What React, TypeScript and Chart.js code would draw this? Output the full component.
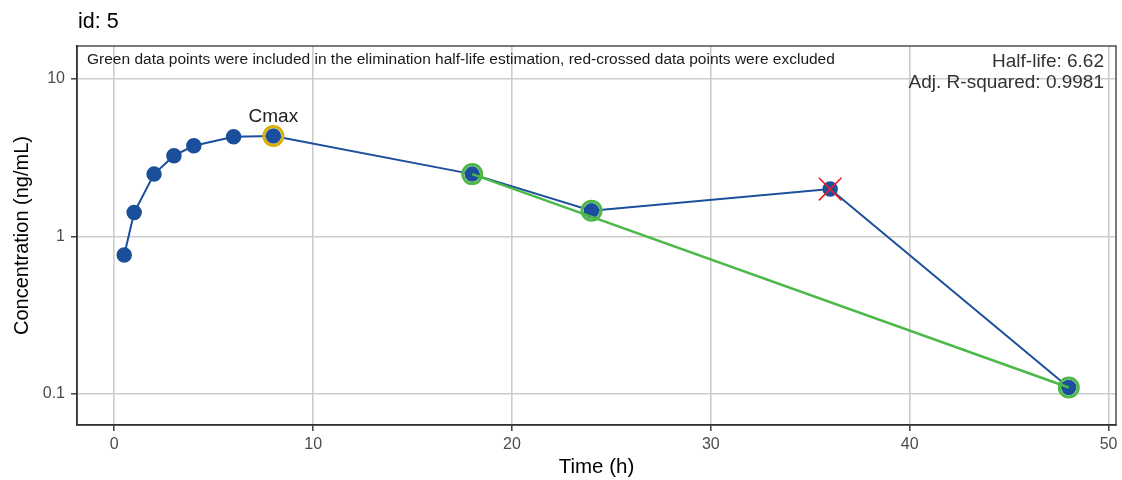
import React, { useEffect, useRef } from "react";
import { Chart, registerables } from "chart.js";

Chart.register(...registerables);

const times = [0.5, 1, 2, 3, 4, 6, 8, 18, 24, 36, 48];
const conc = [0.763, 1.42, 2.49, 3.26, 3.77, 4.3, 4.35, 2.49, 1.46, 2.0, 0.11];
const includedTimes = [18, 24, 48];
const excludedTimes = [36];
const fitTimes = [18, 48];
const fitConc = [2.49, 0.11];
const xTicks = [0, 10, 20, 30, 40, 50];
const yTicks = [0.1, 1, 10];
const yTickLabels = ["0.1", "1", "10"];
const titleText = "id: 5";
const noteText =
  "Green data points were included in the elimination half-life estimation, red-crossed data points were excluded";
const halfLifeText = "Half-life: 6.62";
const rsqText = "Adj. R-squared: 0.9981";

const FONT = "'Liberation Sans', Arial, Helvetica, sans-serif";
const BLUE = "#1b4f9b";
const GREEN = "#4cb848";
const GOLD = "#d8b000";
const RED = "#f21c24";

function pick(ts: number[]) {
  return ts.map((t) => ({ x: t, y: conc[times.indexOf(t)] }));
}

export default function App() {
  const ref = useRef<HTMLCanvasElement | null>(null);

  useEffect(() => {
    if (!ref.current) return;
    const cmaxIdx = conc.indexOf(Math.max(...conc));
    const cmaxPt = [{ x: times[cmaxIdx], y: conc[cmaxIdx] }];

    const annot = {
      id: "annot",
      afterDraw(chart: any) {
        const { ctx, chartArea } = chart;
        const xs = chart.scales.x;
        const ys = chart.scales.y;
        ctx.save();
        ctx.strokeStyle = "#333333";
        ctx.lineWidth = 1.3;
        ctx.strokeRect(
          chartArea.left,
          chartArea.top,
          chartArea.right - chartArea.left,
          chartArea.bottom - chartArea.top
        );
        ctx.fillStyle = "#000000";
        ctx.textBaseline = "middle";
        ctx.textAlign = "left";
        ctx.font = `21.5px ${FONT}`;
        ctx.fillText(titleText, 78, 22);
        ctx.font = `15.5px ${FONT}`;
        ctx.fillStyle = "#1a1a1a";
        ctx.fillText(noteText, 87, 60);
        ctx.textAlign = "right";
        ctx.font = `19px ${FONT}`;
        ctx.fillStyle = "#333333";
        ctx.fillText(halfLifeText, 1104, 62);
        ctx.fillText(rsqText, 1104, 83);
        ctx.textAlign = "center";
        ctx.fillStyle = "#222222";
        ctx.fillText(
          "Cmax",
          xs.getPixelForValue(cmaxPt[0].x),
          ys.getPixelForValue(cmaxPt[0].y) - 19
        );
        ctx.restore();
      },
    };

    const chart = new Chart(ref.current, {
      type: "line",
      data: {
        datasets: [
          {
            label: "excluded",
            data: pick(excludedTimes),
            showLine: false,
            pointStyle: "crossRot",
            pointRadius: 16,
            borderColor: RED,
            borderWidth: 1.6,
            backgroundColor: "transparent",
            order: 1,
          },
          {
            label: "cmax",
            data: cmaxPt,
            showLine: false,
            pointRadius: 9.5,
            borderWidth: 3,
            borderColor: GOLD,
            backgroundColor: "transparent",
            order: 2,
          },
          {
            label: "included",
            data: pick(includedTimes),
            showLine: false,
            pointRadius: 9.5,
            borderWidth: 3,
            borderColor: GREEN,
            backgroundColor: "transparent",
            order: 3,
          },
          {
            label: "fit",
            data: fitTimes.map((t, i) => ({ x: t, y: fitConc[i] })),
            borderColor: GREEN,
            borderWidth: 2.5,
            pointRadius: 0,
            fill: false,
            order: 4,
          },
          {
            label: "conc",
            data: times.map((t, i) => ({ x: t, y: conc[i] })),
            borderColor: BLUE,
            backgroundColor: BLUE,
            borderWidth: 2,
            pointRadius: 7,
            pointBorderWidth: 1.5,
            pointBorderColor: BLUE,
            pointBackgroundColor: BLUE,
            fill: false,
            order: 5,
          },
        ],
      },
      options: {
        animation: false,
        responsive: false,
        events: [],
        layout: { autoPadding: false, padding: { top: 46, right: 6, left: 0, bottom: 0 } },
        plugins: {
          legend: { display: false },
          tooltip: { enabled: false },
        },
        scales: {
          x: {
            type: "linear",
            min: -1.875,
            max: 50.375,
            afterBuildTicks: (s: any) => {
              s.ticks = xTicks.map((v) => ({ value: v }));
            },
            afterFit: (s: any) => {
              s.height = 55;
              s.paddingLeft = 0;
              s.paddingRight = 0;
            },
            ticks: {
              color: "#4d4d4d",
              font: { family: FONT, size: 16 },
              padding: 4,
              maxRotation: 0,
              callback: (v: any) => String(v),
            },
            grid: {
              color: "#cccccc",
              lineWidth: 1.6,
              tickColor: "#333333",
              tickLength: 6,
              tickWidth: 1.4,
            },
            border: { display: true, color: "#333333", width: 1.6 },
            title: {
              display: true,
              text: "Time (h)",
              color: "#000000",
              font: { family: FONT, size: 20.5 },
              padding: { top: 0, bottom: 0.5 },
            },
          },
          y: {
            type: "logarithmic",
            min: 0.0636,
            max: 16.2,
            afterBuildTicks: (s: any) => {
              s.ticks = yTicks.map((v) => ({ value: v }));
            },
            afterFit: (s: any) => {
              s.width = 77;
              s.paddingTop = 0;
              s.paddingBottom = 0;
            },
            ticks: {
              color: "#4d4d4d",
              font: { family: FONT, size: 16 },
              padding: 6,
              callback: (v: any) => {
                const i = yTicks.indexOf(Number(v));
                return i >= 0 ? yTickLabels[i] : "";
              },
            },
            grid: {
              color: "#cccccc",
              lineWidth: 1.6,
              tickColor: "#333333",
              tickLength: 6,
              tickWidth: 1.4,
            },
            border: { display: true, color: "#333333", width: 1.6 },
            title: {
              display: true,
              text: "Concentration (ng/mL)",
              color: "#000000",
              font: { family: FONT, size: 20 },
              padding: { top: 10, bottom: 0 },
            },
          },
        },
      },
      plugins: [annot],
    } as any);

    return () => chart.destroy();
  }, []);

  return (
    <div style={{ position: "absolute", left: 0, top: 0, width: 1122, height: 480, background: "#fff" }}>
      <canvas ref={ref} width={1122} height={480} style={{ width: 1122, height: 480, display: "block" }} />
    </div>
  );
}
